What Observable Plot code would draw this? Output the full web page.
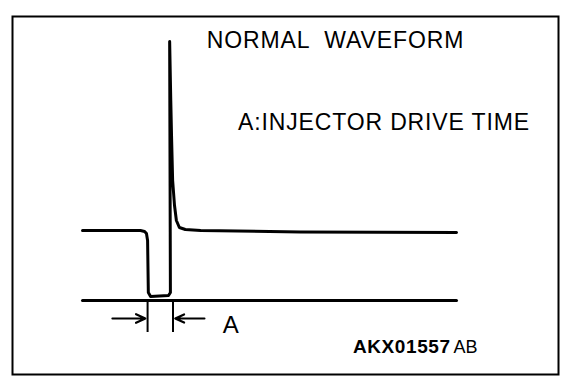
<!DOCTYPE html>
<html>
<head>
<meta charset="utf-8">
<script src="https://cdn.jsdelivr.net/npm/d3@7"></script>
<script src="https://cdn.jsdelivr.net/npm/@observablehq/plot@0.6"></script>
<style>
  html, body { margin: 0; padding: 0; background: #fff; }
  svg text { white-space: pre; }
</style>
</head>
<body>
<div id="chart"></div>
<script>
// Waveform: time (arbitrary units, 0..100) and voltage (V)
const waveTime = [0, 15.5, 16.6, 17.1, 17.4, 17.6, 18.2, 23.0, 23.5, 23.3, 23.6, 23.8, 24.1, 24.6, 25.1, 25.9, 27.5, 31.6, 58.3, 100];
const waveVolt = [14, 14, 13.8, 13.4, 12, 1.6, 0.8, 1, 1.6, 51.8, 40, 33, 24, 19, 16, 14.6, 14.2, 14, 13.7, 13.6];
// Ground (0 V) reference line
const groundTime = [0, 100];
const groundVolt = [0, 0];
// Injector drive time "A" markers
const markTime = [17.4, 24.2];
const markTop = [-0.4];
const markBottom = [-6.4];
const arrowFromTime = [8, 32.6];
const arrowToTime = [16.8, 24.8];
const arrowVolt = -3.6;
// Texts
const titleText = "NORMAL  WAVEFORM";
const legendText = "A:INJECTOR DRIVE TIME";
const markLabel = "A";
const codeBold = "AKX01557";
const codeSuffix = "AB";

const wave = waveTime.map((t, i) => ({t, v: waveVolt[i]}));
const ground = groundTime.map((t, i) => ({t, v: groundVolt[i]}));
const ticks = markTime.map(t => ({t, v1: markTop[0], v2: markBottom[0]}));
const arrows = arrowFromTime.map((t1, i) => ({t1, t2: arrowToTime[i], v: arrowVolt}));

const font = "Liberation Sans, Arial, Helvetica, sans-serif";

const chart = Plot.plot({
  width: 576,
  height: 388,
  marginLeft: 12,
  marginRight: 18,
  marginTop: 16,
  marginBottom: 14,
  x: {domain: [-18.72, 127.27], axis: null},
  y: {domain: [-14.8, 56.8], axis: null},
  style: {fontFamily: font, background: "#fff", color: "#000"},
  marks: [
    Plot.frame({stroke: "#000", strokeWidth: 2}),
    Plot.line(ground, {x: "t", y: "v", stroke: "#000", strokeWidth: 3}),
    Plot.line(wave, {x: "t", y: "v", stroke: "#000", strokeWidth: 3, curve: "linear", strokeLinejoin: "round"}),
    Plot.ruleX(ticks, {x: "t", y1: "v1", y2: "v2", stroke: "#000", strokeWidth: 2}),
    Plot.arrow(arrows, {x1: "t1", x2: "t2", y1: "v", y2: "v", stroke: "#000", strokeWidth: 2.2, headLength: 7, headAngle: 50}),
    Plot.text([markLabel], {x: [37.5], y: [-6.4], text: d => d, textAnchor: "start", lineAnchor: "bottom", fontSize: 24, fill: "#000"}),
    Plot.text([titleText], {x: [33.2], y: [50.6], text: d => d, textAnchor: "start", lineAnchor: "bottom", fontSize: 23, fill: "#000"}),
    Plot.text([legendText], {x: [41.6], y: [34.2], text: d => d, textAnchor: "start", lineAnchor: "bottom", fontSize: 23, fill: "#000"}),
    Plot.text([codeBold], {x: [72.3], y: [-10.5], text: d => d, textAnchor: "start", lineAnchor: "bottom", fontSize: 19, fontWeight: "bold", fill: "#000"}),
    Plot.text([codeSuffix], {x: [99.2], y: [-10.4], text: d => d, textAnchor: "start", lineAnchor: "bottom", fontSize: 18, fill: "#000"})
  ]
});
// Letter spacing to match the wide lettering of the reference
const spacing = new Map([[titleText, "0.9px"], [legendText, "0.85px"], [codeBold, "0.6px"]]);
d3.select(chart).selectAll("text").each(function() {
  const s = spacing.get(this.textContent);
  if (s) this.style.letterSpacing = s;
});
document.getElementById("chart").appendChild(chart);
</script>
</body>
</html>
